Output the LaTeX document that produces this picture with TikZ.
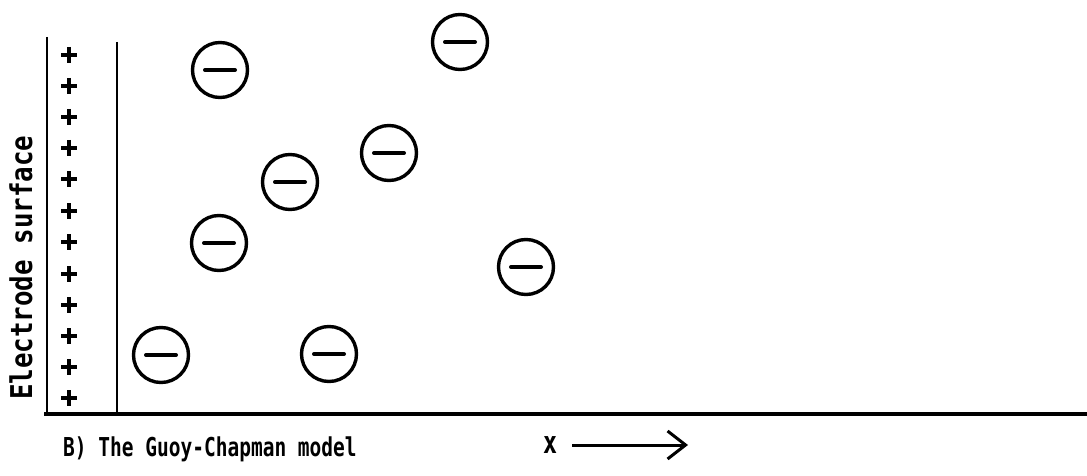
\documentclass[tikz,border=0pt]{standalone}
\usepackage{fontspec}
\usetikzlibrary{arrows.meta}
% typewriter-like lettering
\newfontfamily\capfont[FakeStretch=0.75]{DejaVu Sans Mono}
\newfontfamily\axisfont[FakeStretch=0.86]{DejaVu Sans Mono}
\begin{document}
\begin{tikzpicture}[x=1pt,y=-1pt,
  ion/.style={circle, draw, line width=3.4pt, minimum size=55pt, inner sep=0pt,
    path picture={\draw[line width=4pt,line cap=round]
      ([xshift=-15pt]path picture bounding box.center) --
      ([xshift=15pt]path picture bounding box.center);}},
  plussign/.style={line width=3.2pt},
  surface/.style={line width=2.6pt},
  plane/.style={line width=2pt},
  baseaxis/.style={line width=3.6pt},
  xarrow/.style={line width=3pt, -{Straight Barb[length=18pt,width=28pt,line width=3pt]}}
]
\useasboundingbox (0,0) rectangle (1087,476);

% electrode surface, plane of closest approach and x axis
\coordinate (eTop) at (47,37);
\coordinate (eBot) at (47,414);
\coordinate (pTop) at (117,42);
\coordinate (pBot) at (117,414);
\coordinate (aL) at (44,414);
\coordinate (aR) at (1087,414);
\draw[surface] (eTop) -- (eBot);
\draw[plane] (pTop) -- (pBot);
\draw[baseaxis] (aL) -- (aR);

% positive charges on the electrode
\foreach \y in {55,86,117,148,179,211,242,274,305,336,367,398}
  \draw[plussign] (61,\y) -- (77,\y) (69,\y-8) -- (69,\y+8);

% label of the surface
\node[font=\axisfont\bfseries\fontsize{30}{32}\selectfont, rotate=90, anchor=base west, inner sep=0pt]
  (esurf) at (32,400) {Electrode surface};

% diffuse layer of anions
\node[ion] (n1) at (220,70) {};
\node[ion] (n2) at (460,42) {};
\node[ion] (n3) at (389,153) {};
\node[ion] (n4) at (290,182) {};
\node[ion] (n5) at (219,243) {};
\node[ion] (n6) at (526,267) {};
\node[ion] (n7) at (161,355) {};
\node[ion] (n8) at (329,354) {};

% caption and distance axis
\node[font=\capfont\bfseries\fontsize{26}{29}\selectfont, anchor=base west, inner sep=0pt]
  (cap) at (63,456) {B) The Guoy-Chapman model};
\node[font=\capfont\bfseries\fontsize{31}{33}\selectfont, anchor=base, inner sep=0pt]
  (xlab) at (550,453) {x};
\coordinate (arrS) at (572,445);
\coordinate (arrE) at (688,445);
\draw[xarrow] (arrS) -- (arrE);
\end{tikzpicture}
\end{document}
